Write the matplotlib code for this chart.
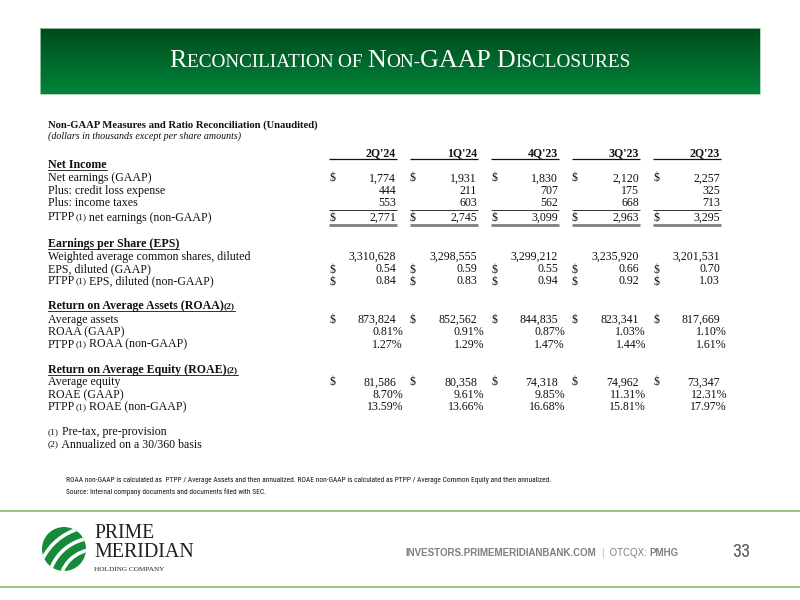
import matplotlib as mpl
mpl.use('Agg')
import matplotlib.pyplot as plt
import numpy as np
from matplotlib import font_manager
from matplotlib.font_manager import FontProperties
from matplotlib.patches import Rectangle, Circle
from matplotlib.colors import LinearSegmentedColormap

# data (dollars in thousands except per share amounts)
quarters = ["2Q'24", "1Q'24", "4Q'23", "3Q'23", "2Q'23"]
net_earnings = [1774, 1931, 1830, 2120, 2257]
credit_loss = [444, 211, 707, 175, 325]
income_taxes = [553, 603, 562, 668, 713]
ptpp_earnings = [2771, 2745, 3099, 2963, 3295]
shares_diluted = [3310628, 3298555, 3299212, 3235920, 3201531]
eps_gaap = [0.54, 0.59, 0.55, 0.66, 0.70]
eps_ptpp = [0.84, 0.83, 0.94, 0.92, 1.03]
avg_assets = [873824, 852562, 844835, 823341, 817669]
roaa_gaap = [0.81, 0.91, 0.87, 1.03, 1.10]
roaa_ptpp = [1.27, 1.29, 1.47, 1.44, 1.61]
avg_equity = [81586, 80358, 74318, 74962, 73347]
roae_gaap = [8.70, 9.61, 9.85, 11.31, 12.31]
roae_ptpp = [13.59, 13.66, 16.68, 15.81, 17.97]

SERIF = 'Liberation Serif'
INK = '#111111'
GRAY = '#7f7f7f'

# a narrow sans for the small notes and the page number, if one is installed
narrow_prop = FontProperties(family='Liberation Sans')
for want in ['LiberationSansNarrow-Regular', 'RobotoCondensed-Regular', 'DejaVuSansCondensed.ttf']:
    hits = [f.fname for f in font_manager.fontManager.ttflist if want in f.fname]
    if hits:
        narrow_prop = FontProperties(fname=hits[0])
        break

fig = plt.figure(figsize=(8, 6), dpi=100)
ax = fig.add_axes([0, 0, 1, 1])
rend = fig.canvas.get_renderer()


def measure(s, **kw):
    t = ax.text(0, 0, s + '|', **kw)
    w1 = t.get_window_extent(rend).width
    t.remove()
    t = ax.text(0, 0, '|', **kw)
    w2 = t.get_window_extent(rend).width
    t.remove()
    return w1 - w2


def fit(s, target, **kw):
    return 10 * target / measure(s, fontsize=10, **kw)


def fit_prop(s, target, prop):
    p = prop.copy()
    p.set_size(10)
    t = ax.text(0, 0, s, fontproperties=p)
    w = t.get_window_extent(rend).width
    t.remove()
    return 10 * target / w


def runs(x, y, parts, color=INK):
    # parts: (text, fontsize, fontkw, dy)
    for s, size, kw, dy in parts:
        ax.text(x, y + dy, s, fontsize=size, va='baseline', ha='left', color=color, **kw)
        x += measure(s, fontsize=size, **kw)
    return x


def runs_width(parts):
    return sum(measure(s, fontsize=size, **kw) for s, size, kw, dy in parts)


##############################################
# banner
##############################################
green = LinearSegmentedColormap.from_list('g', ['#004a1b', '#00853a'])
ax.imshow(np.linspace(0, 1, 100).reshape(-1, 1), cmap=green, extent=[40, 760, 94, 28], aspect='auto')
ax.add_patch(Rectangle((40, 28), 720, 66, fill=False, ec='#a9cdb0', lw=0.6))

serif = dict(family=SERIF)
big, small = 17, 12.6
title_parts = [('R', big), ('ECONCILIATION ', small), ('OF ', small), ('N', big), ('ON-', small),
               ('GAAP ', big), ('D', big), ('ISCLOSURES', small)]
parts = [(s, sz, serif, 0) for s, sz in title_parts]
scale = 463 / runs_width(parts)
parts = [(s, sz * scale, serif, 0) for s, sz in title_parts]
runs(400 - runs_width(parts) / 2, 67, parts, color='white')

##############################################
# table
##############################################
fs = fit('Weighted average common shares, diluted', 201, family=SERIF)
sup = fs * 0.8
LX = 48
col_right = [396, 477, 558, 639, 720]
col_left = [329, 410, 491, 572, 653]
OFF = 3.5

ax.text(LX, 128, 'Non-GAAP Measures and Ratio Reconciliation (Unaudited)', family=SERIF, weight='bold',
        fontsize=fit('Non-GAAP Measures and Ratio Reconciliation (Unaudited)', 272, family=SERIF, weight='bold'),
        va='baseline', color=INK)
ax.text(LX, 139, '(dollars in thousands except per share amounts)', family=SERIF, style='italic',
        fontsize=fit('(dollars in thousands except per share amounts)', 193, family=SERIF, style='italic'),
        va='baseline', color=INK)

for i, q in enumerate(quarters):
    ax.text(col_right[i], 153 + OFF, q, family=SERIF, weight='bold', fontsize=fs, ha='right', va='baseline', color=INK)
    ax.plot([col_left[i], col_right[i] + 1], [159, 159], color=INK, lw=0.9, solid_capstyle='butt')


def label(y, pieces, bold=False, underline=False):
    w = 'bold' if bold else 'normal'
    parts = []
    for s in pieces:
        if s.startswith('('):
            parts.append((s, sup, dict(family=SERIF, weight=w), -1.5))
        else:
            parts.append((s, fs, dict(family=SERIF, weight=w), 0))
    x_end = runs(LX, y + OFF, parts)
    if underline:
        ax.plot([LX, x_end], [y + OFF + 1.7, y + OFF + 1.7], color=INK, lw=0.6)


def values(y, vals, fmt, dollar=False, pct=False):
    for i, v in enumerate(vals):
        if dollar:
            ax.text(col_left[i], y + OFF, '$', family=SERIF, fontsize=fs, va='baseline', color=INK)
        ax.text(col_right[i] + (7 if pct else 0), y + OFF, fmt(v), family=SERIF, fontsize=fs,
                ha='right', va='baseline', color=INK)


num = lambda v: f'{v:,}'
dec = lambda v: f'{v:.2f}'
pc = lambda v: f'{v:.2f}%'

# net income
label(165, ['Net Income'], bold=True, underline=True)
label(178, ['Net earnings (GAAP)'])
values(178, net_earnings, num, dollar=True)
label(190.5, ['Plus: credit loss expense'])
values(190.5, credit_loss, num)
label(203, ['Plus: income taxes'])
values(203, income_taxes, num)
label(217, ['PTPP', '(1)', ' net earnings (non-GAAP)'])
values(217, ptpp_earnings, num, dollar=True)
for i in range(len(quarters)):
    ax.plot([col_left[i], col_right[i] + 1], [210, 210], color=INK, lw=0.6, solid_capstyle='butt')
    ax.plot([col_left[i], col_right[i] + 1], [224.5, 224.5], color='#808080', lw=2.0, solid_capstyle='butt')

# eps
label(244, ['Earnings per Share (EPS)'], bold=True, underline=True)
label(256.5, ['Weighted average common shares, diluted'])
values(256.5, shares_diluted, num)
label(269, ['EPS, diluted (GAAP)'])
values(269, eps_gaap, dec, dollar=True)
label(281, ['PTPP', '(1)', ' EPS, diluted (non-GAAP)'])
values(281, eps_ptpp, dec, dollar=True)

# roaa
label(306, ['Return on Average Assets (ROAA)', '(2)'], bold=True, underline=True)
label(319, ['Average assets'])
values(319, avg_assets, num, dollar=True)
label(331.5, ['ROAA (GAAP)'])
values(331.5, roaa_gaap, pc, pct=True)
label(344, ['PTPP', '(1)', ' ROAA (non-GAAP)'])
values(344, roaa_ptpp, pc, pct=True)

# roae
label(370, ['Return on Average Equity (ROAE)', '(2)'], bold=True, underline=True)
label(382, ['Average equity'])
values(382, avg_equity, num, dollar=True)
label(394.5, ['ROAE (GAAP)'])
values(394.5, roae_gaap, pc, pct=True)
label(407, ['PTPP', '(1)', ' ROAE (non-GAAP)'])
values(407, roae_ptpp, pc, pct=True)

label(432, ['(1)', ' Pre-tax, pre-provision'])
label(444, ['(2)', ' Annualized on a 30/360 basis'])

note1 = ('ROAA non-GAAP is calculated as  PTPP / Average Assets and then annualized. '
         'ROAE non-GAAP is calculated as PTPP / Average Common Equity and then annualized.')
note2 = 'Source: Internal company documents and documents filed with SEC.'
note_prop = narrow_prop.copy()
note_prop.set_size(fit_prop(note1, 483, narrow_prop))
ax.text(66, 482, note1, fontproperties=note_prop, va='baseline', color=INK)
ax.text(66, 494, note2, fontproperties=note_prop, va='baseline', color=INK)

##############################################
# footer
##############################################
for yy in [511, 587]:
    ax.plot([0, 800], [yy, yy], color='#7cb35c', lw=1.1)

logo = Circle((64, 549), 22, color='#168a3b', ec='none')
ax.add_patch(logo)
for rr in [35.5, 47, 58.5]:
    arc = Circle((95, 585), rr, fill=False, ec='white', lw=2.6)
    ax.add_patch(arc)
    arc.set_clip_path(logo)

ax.text(94, 538, 'PRIME', family=SERIF, fontsize=fit('PRIME', 60, family=SERIF), va='baseline', color='#231f20')
ax.text(94, 557, 'MERIDIAN', family=SERIF, fontsize=fit('MERIDIAN', 100, family=SERIF), va='baseline', color='#231f20')
ax.text(94, 571, 'HOLDING COMPANY', family=SERIF, fontsize=fit('HOLDING COMPANY', 71, family=SERIF),
        va='baseline', color='#231f20')

sans = dict(family='Liberation Sans')
sansb = dict(family='Liberation Sans', weight='bold')
foot = [('INVESTORS.PRIMEMERIDIANBANK.COM', 7, sansb, 0), ('  ', 7, sans, 0)]
x = runs(405, 555.5, foot, color=GRAY)
x = runs(x, 555.5, [('|', 7, sans, 0)], color='#b0b0b0')
x = runs(x, 555.5, [('  OTCQX: ', 7, sans, 0), ('PMHG', 7, sansb, 0)], color=GRAY)
page_prop = narrow_prop.copy()
page_prop.set_size(min(fit_prop('33', 18, narrow_prop), 14))
ax.text(732, 557, '33', fontproperties=page_prop, va='baseline', color='#595959')

ax.set_xlim(0, 800)
ax.set_ylim(600, 0)
ax.axis('off')
fig.savefig('out.png', dpi=100)
